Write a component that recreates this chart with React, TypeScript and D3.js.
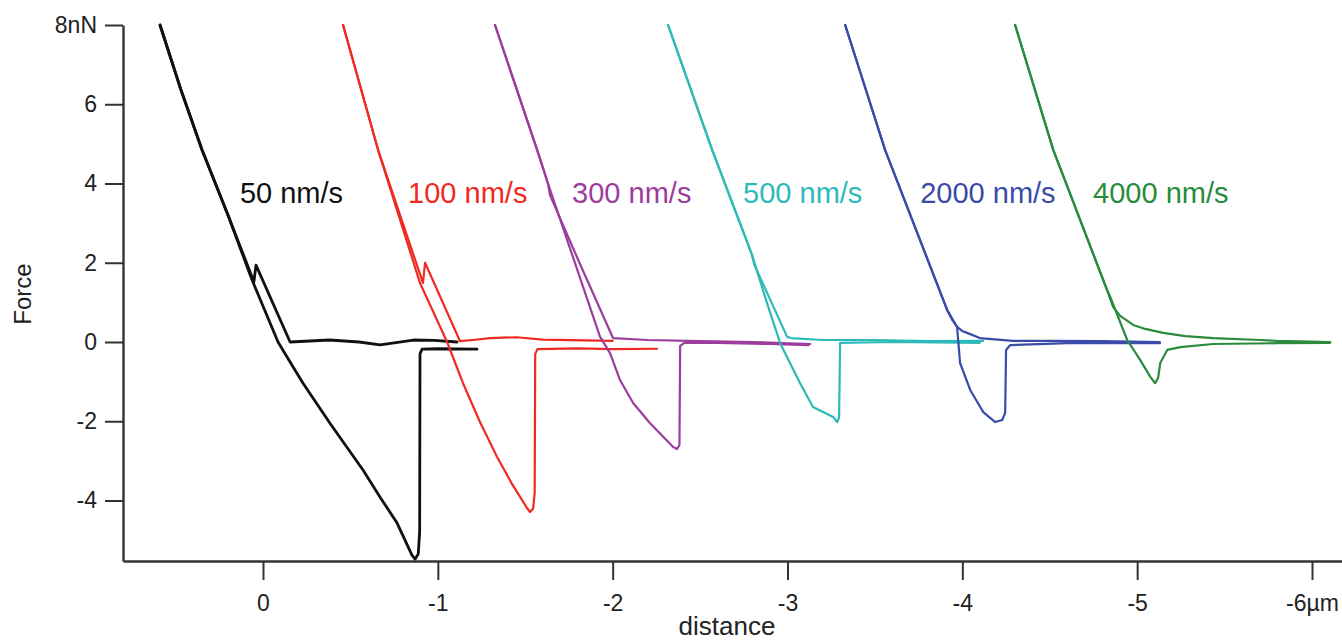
import React, { useEffect, useRef } from "react";
import * as d3 from "d3";

type Pt = [number, number];

// [distance (µm), force (nN)]
const approach50: Pt[] = [[-1.11, 0.0], [-0.98, 0.04], [-0.86, 0.05], [-0.67, -0.07], [-0.55, 0.0], [-0.38, 0.05], [-0.155, 0.0], [0.04, 1.94], [0.052, 1.52], [0.2, 3.2], [0.349, 4.85], [0.469, 6.36], [0.589, 8.0]];
const retract50: Pt[] = [[0.589, 8.0], [0.469, 6.36], [0.349, 4.85], [0.2, 3.2], [0.063, 1.57], [-0.086, 0.0], [-0.154, -0.5], [-0.229, -1.04], [-0.383, -2.05], [-0.572, -3.23], [-0.669, -3.91], [-0.767, -4.57], [-0.852, -5.38], [-0.87, -5.48], [-0.888, -5.35], [-0.896, -4.8], [-0.898, -0.3], [-0.91, -0.18], [-1.0, -0.17], [-1.224, -0.18]];

const approach100: Pt[] = [[-2.0, 0.03], [-1.6, 0.06], [-1.45, 0.12], [-1.3, 0.1], [-1.2, 0.05], [-1.127, 0.02], [-0.927, 2.0], [-0.915, 1.49], [-0.658, 4.85], [-0.458, 8.0]];
const retract100: Pt[] = [[-0.458, 8.0], [-0.658, 4.85], [-0.898, 1.49], [-1.053, 0.0], [-1.144, -1.04], [-1.241, -2.02], [-1.339, -2.9], [-1.424, -3.58], [-1.51, -4.19], [-1.527, -4.29], [-1.545, -4.2], [-1.554, -3.8], [-1.557, -0.3], [-1.57, -0.18], [-1.8, -0.16], [-2.0, -0.18], [-2.254, -0.17]];

const approach300: Pt[] = [[-3.13, -0.05], [-2.8, 0.0], [-2.5, 0.02], [-2.2, 0.05], [-2.002, 0.1], [-1.82, 1.9], [-1.642, 3.7], [-1.63, 4.0], [-1.568, 4.85], [-1.327, 8.0]];
const retract300: Pt[] = [[-1.327, 8.0], [-1.568, 4.85], [-1.63, 4.0], [-1.928, 0.13], [-1.985, -0.28], [-2.042, -0.96], [-2.117, -1.54], [-2.214, -2.05], [-2.346, -2.65], [-2.368, -2.7], [-2.382, -2.6], [-2.386, -0.1], [-2.41, -0.02], [-2.6, -0.02], [-2.9, -0.05], [-3.12, -0.08]];

const approach500: Pt[] = [[-4.119, 0.03], [-3.8, 0.02], [-3.5, 0.05], [-3.2, 0.05], [-3.02, 0.1], [-2.998, 0.13], [-2.81, 1.95], [-2.797, 2.2], [-2.569, 4.85], [-2.317, 8.0]];
const retract500: Pt[] = [[-2.317, 8.0], [-2.569, 4.85], [-2.797, 2.2], [-2.883, 0.98], [-2.958, -0.03], [-3.072, -1.04], [-3.146, -1.64], [-3.261, -1.89], [-3.284, -2.02], [-3.295, -1.9], [-3.301, -0.02], [-3.6, 0.0], [-4.1, -0.02]];

const approach2000: Pt[] = [[-5.13, 0.0], [-4.8, 0.02], [-4.5, 0.03], [-4.29, 0.03], [-4.1, 0.1], [-4.027, 0.23], [-3.999, 0.28], [-3.97, 0.38], [-3.942, 0.56], [-3.913, 0.81], [-3.558, 4.85], [-3.33, 8.0]];
const retract2000: Pt[] = [[-3.33, 8.0], [-3.558, 4.85], [-3.913, 0.81], [-3.97, 0.38], [-3.987, -0.53], [-4.045, -1.21], [-4.12, -1.77], [-4.188, -2.02], [-4.228, -1.97], [-4.245, -1.79], [-4.25, -0.2], [-4.273, -0.08], [-4.6, -0.03], [-5.13, -0.03]];

const approach4000: Pt[] = [[-6.104, 0.0], [-5.8, 0.03], [-5.704, 0.05], [-5.435, 0.1], [-5.275, 0.15], [-5.149, 0.23], [-5.046, 0.33], [-4.977, 0.43], [-4.903, 0.66], [-4.863, 0.88], [-4.828, 1.31], [-4.52, 4.85], [-4.302, 8.0]];
const retract4000: Pt[] = [[-4.302, 8.0], [-4.52, 4.85], [-4.828, 1.31], [-4.846, 1.14], [-4.943, 0.05], [-5.017, -0.45], [-5.075, -0.88], [-5.103, -1.04], [-5.12, -0.9], [-5.132, -0.53], [-5.172, -0.2], [-5.246, -0.13], [-5.435, -0.05], [-5.8, -0.03], [-6.104, -0.02]];

const speeds = ["50 nm/s", "100 nm/s", "300 nm/s", "500 nm/s", "2000 nm/s", "4000 nm/s"];
const approaches = [approach50, approach100, approach300, approach500, approach2000, approach4000];
const retracts = [retract50, retract100, retract300, retract500, retract2000, retract4000];
const colors = ["#111111", "#ee2a22", "#9c3d9e", "#2dbab8", "#3a4ba8", "#2b8a3c"];
const labelDist = [0.132, -0.83, -1.768, -2.746, -3.759, -4.748];

const yTicks = [8, 6, 4, 2, 0, -2, -4];
const xTicks = [0, -1, -2, -3, -4, -5, -6];

const W = 1342;
const H = 642;

export default function App() {
  const ref = useRef<SVGSVGElement>(null);

  useEffect(() => {
    const svg = d3.select(ref.current);
    svg.selectAll("*").remove();

    const font = "'Liberation Sans', Arial, Helvetica, sans-serif";

    const x = d3.scaleLinear().domain([0, -6]).range([263, 1312]);
    const y = d3.scaleLinear().domain([0, 8]).range([342, 25]);

    const yAxisScale = d3.scaleLinear().domain([y.invert(561), 8]).range([561, 25]);
    const xAxisScale = d3.scaleLinear().domain([x.invert(123), x.invert(W)]).range([123, W]);

    const line = d3
      .line<Pt>()
      .x((d) => x(d[0]))
      .y((d) => y(d[1]));

    const g = svg.append("g");
    speeds.forEach((s, i) => {
      [approaches[i], retracts[i]].forEach((pts) => {
        g.append("path")
          .attr("d", line(pts))
          .attr("fill", "none")
          .attr("stroke", colors[i])
          .attr("stroke-width", i === 0 ? 2.8 : 2.2)
          .attr("stroke-linejoin", "round")
          .attr("stroke-linecap", "round");
      });
      g.append("text")
        .attr("x", x(labelDist[i]))
        .attr("y", y(3.5))
        .attr("fill", colors[i])
        .style("font-family", font)
        .style("font-size", "29px")
        .text(s);
    });

    // axes
    const yAxis = svg
      .append("g")
      .attr("transform", "translate(123,0)")
      .call(
        d3
          .axisLeft(yAxisScale)
          .tickValues(yTicks)
          .tickSize(18)
          .tickSizeOuter(0)
          .tickPadding(8)
          .tickFormat((d) => (d === 8 ? "8nN" : String(d)))
      );

    const xAxis = svg
      .append("g")
      .attr("transform", "translate(0,561)")
      .call(
        d3
          .axisBottom(xAxisScale)
          .tickValues(xTicks)
          .tickSize(19)
          .tickSizeOuter(0)
          .tickPadding(15)
          .tickFormat((d) => (d === -6 ? "-6µm" : String(d)))
      );

    [yAxis, xAxis].forEach((ax) => {
      ax.select(".domain").attr("stroke", "#333").attr("stroke-width", 2.4);
      ax.selectAll(".tick line").attr("stroke", "#333").attr("stroke-width", 2);
      ax.selectAll(".tick text")
        .attr("fill", "#222")
        .style("font-family", font)
        .style("font-size", "23px");
    });

    svg
      .append("text")
      .attr("x", 727)
      .attr("y", 635)
      .attr("text-anchor", "middle")
      .attr("fill", "#222")
      .style("font-family", font)
      .style("font-size", "26px")
      .text("distance");

    svg
      .append("text")
      .attr("transform", "translate(31,294) rotate(-90)")
      .attr("text-anchor", "middle")
      .attr("fill", "#222")
      .style("font-family", font)
      .style("font-size", "24px")
      .text("Force");
  }, []);

  return (
    <svg
      ref={ref}
      width={W}
      height={H}
      style={{ position: "absolute", left: 0, top: 0, background: "#fff" }}
    />
  );
}
